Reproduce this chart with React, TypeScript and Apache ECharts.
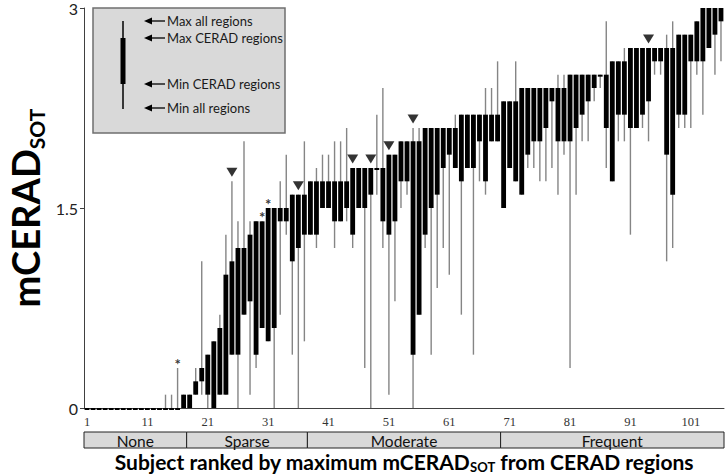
import React, { useEffect, useRef } from 'react';
import * as echarts from 'echarts';

// Subject rank (categories)
const subjects: string[] = Array.from({ length: 106 }, (_, i) => String(i + 1));

// mCERAD_SOT per subject
const minAll = [
  0, 0, 0, 0, 0, 0, 0, 0, 0, 0, 0, 0, 0, 0, 0, 0, 0, 0, 0.1, 0.1,
  0, 0, 0.1, 0.1, 0.4, 0, 0.7, 0.1, 0.3, 0.6, 0.5, 0, 0.7, 1.3, 0.4, 0, 0.5, 1.3, 1.2, 1.5,
  1.5, 1.2, 1.4, 1.4, 1.2, 1.5, 0.3, 0, 1.6, 1.2, 0.1, 0.8, 1.5, 1.6, 0, 0.7, 1.2, 0.4, 0.9, 1.2,
  1.0, 1.8, 0.7, 1.8, 0.4, 1.7, 1.6, 2.0, 2.0, 1.5, 1.8, 1.7, 1.6, 1.8, 1.8, 1.7, 1.7, 1.8, 1.6, 1.9,
  0.3, 1.6, 2.0, 2.0, 2.3, 2.4, 1.8, 1.7, 2.0, 2.0, 1.3, 2.1, 2.1, 2.0, 2.5, 2.5, 1.1, 1.2, 2.1, 2.1,
  2.1, 2.5, 2.2, 2.7, 2.5, 2.6,
];
const minCerad = [
  0, 0, 0, 0, 0, 0, 0, 0, 0, 0, 0, 0, 0, 0, 0, 0, 0, 0, 0.1, 0.2,
  0.1, 0, 0.1, 0.1, 0.4, 0.4, 0.7, 0.8, 0.4, 0.6, 0.5, 0.6, 1.4, 1.4, 1.1, 1.2, 1.3, 1.3, 1.3, 1.5,
  1.5, 1.4, 1.4, 1.5, 1.3, 1.5, 1.5, 1.6, 1.8, 1.4, 1.3, 1.4, 1.7, 1.7, 0.4, 0.7, 1.3, 1.5, 1.6, 1.8,
  1.9, 1.8, 1.7, 1.8, 1.8, 2.0, 1.7, 2.0, 2.0, 1.5, 1.8, 1.7, 1.6, 1.9, 2.0, 2.0, 2.1, 2.3, 2.0, 2.0,
  2.0, 2.1, 2.2, 2.3, 2.4, 2.5, 2.1, 1.7, 2.2, 2.2, 2.1, 2.1, 2.2, 2.3, 2.6, 2.6, 1.9, 1.6, 2.2, 2.2,
  2.6, 2.6, 2.6, 2.7, 2.8, 2.9,
];
const maxCerad = [
  0, 0, 0, 0, 0, 0, 0, 0, 0, 0, 0, 0, 0, 0, 0, 0, 0.1, 0.1, 0.2, 0.3,
  0.4, 0.5, 0.6, 1.0, 1.1, 1.2, 1.2, 1.3, 1.4, 1.4, 1.5, 1.5, 1.5, 1.5, 1.6, 1.6, 1.6, 1.7, 1.7, 1.7,
  1.7, 1.7, 1.7, 1.7, 1.8, 1.8, 1.8, 1.8, 1.8, 1.8, 1.9, 1.9, 2.0, 2.0, 2.0, 2.0, 2.1, 2.1, 2.1, 2.1,
  2.1, 2.1, 2.2, 2.2, 2.2, 2.2, 2.2, 2.2, 2.2, 2.3, 2.3, 2.3, 2.4, 2.4, 2.4, 2.4, 2.4, 2.4, 2.4, 2.4,
  2.5, 2.5, 2.5, 2.5, 2.5, 2.5, 2.5, 2.6, 2.6, 2.6, 2.7, 2.7, 2.7, 2.7, 2.7, 2.7, 2.7, 2.7, 2.8, 2.8,
  2.8, 2.9, 3.0, 3.0, 3.0, 3.0,
];
const maxAll = [
  0, 0, 0, 0, 0, 0, 0, 0, 0, 0, 0, 0, 0, 0.1, 0.1, 0.3, 0.1, 0.1, 0.3, 1.1,
  0.4, 0.5, 0.7, 1.3, 1.7, 1.4, 2.0, 1.4, 1.4, 1.4, 1.5, 1.5, 1.7, 1.9, 1.6, 1.6, 2.0, 1.7, 1.8, 1.9,
  1.9, 2.0, 2.0, 2.1, 1.8, 1.8, 1.8, 1.8, 2.2, 2.4, 1.9, 1.9, 2.0, 2.0, 2.1, 2.1, 2.1, 2.1, 2.1, 2.1,
  2.1, 2.2, 2.2, 2.2, 2.2, 2.2, 2.4, 2.4, 2.6, 2.3, 2.3, 2.6, 2.4, 2.4, 2.4, 2.4, 2.4, 2.4, 2.5, 2.5,
  2.5, 2.5, 2.5, 2.5, 2.5, 2.5, 2.9, 2.6, 2.6, 2.7, 2.7, 2.7, 2.7, 2.7, 2.7, 2.7, 2.8, 2.9, 2.8, 2.8,
  2.8, 2.9, 3.0, 3.0, 3.0, 3.0,
];

// Marked subjects
const triangleSubjects = [25, 36, 45, 48, 51, 55, 94];
const asteriskSubjects = [16, 30, 31];

// Neuritic plaque density groups (by subject rank)
const bandNames = ['None', 'Sparse', 'Moderate', 'Frequent'];
const bandStart = [1, 18, 38, 70];
const bandEnd = [17, 37, 69, 106];

// Axis ticks
const yTicks = [0, 1.5, 3];
const xLabelStep = 10;

const legendLabels = ['Max all regions', 'Max CERAD regions', 'Min CERAD regions', 'Min all regions'];

const FONT = 'Lato, "Open Sans", sans-serif';

export default function App() {
  const ref = useRef<HTMLDivElement>(null);

  useEffect(() => {
    if (!ref.current) return;
    const chart = echarts.init(ref.current, null, { renderer: 'svg' });

    const rangeData = subjects.map((_, k) => [k, minAll[k], minCerad[k], maxCerad[k], maxAll[k]]);
    const triData = triangleSubjects.map((s) => [s - 1, maxAll[s - 1]]);
    const astData = asteriskSubjects.map((s) => [s - 1, maxAll[s - 1]]);
    const bandData = bandNames.map((_, i) => [bandStart[i] - 1, bandEnd[i] - 1]);

    const legendRows = [21, 38, 84, 108];
    const legendChildren: any[] = [
      {
        type: 'rect',
        shape: { x: 93, y: 8, width: 192, height: 125 },
        style: { fill: '#d9d9d9', stroke: '#6f6f6f', lineWidth: 1.5 },
      },
      {
        type: 'line',
        shape: { x1: 123, y1: 21, x2: 123, y2: 109 },
        style: { stroke: '#000', lineWidth: 1.5 },
      },
      {
        type: 'rect',
        shape: { x: 120.5, y: 38, width: 5, height: 46 },
        style: { fill: '#000' },
      },
    ];
    legendRows.forEach((y, i) => {
      legendChildren.push(
        {
          type: 'line',
          shape: { x1: 150, y1: y, x2: 165, y2: y },
          style: { stroke: '#000', lineWidth: 1.3 },
        },
        {
          type: 'polygon',
          shape: { points: [[144, y], [152, y - 3.5], [152, y + 3.5]] },
          style: { fill: '#000' },
        },
        {
          type: 'text',
          x: 167,
          y: y,
          style: {
            text: legendLabels[i],
            font: `13px ${FONT}`,
            fill: '#1a1a1a',
            align: 'left',
            verticalAlign: 'middle',
          },
        }
      );
    });

    const option: any = {
      animation: false,
      textStyle: { fontFamily: FONT },
      grid: { left: 84, right: 4, top: 8, bottom: 66, containLabel: false },
      xAxis: {
        type: 'category',
        data: subjects,
        boundaryGap: true,
        axisLine: { lineStyle: { color: '#404040', width: 1 } },
        axisTick: {
          alignWithLabel: true,
          length: 3,
          interval: (idx: number) => idx % xLabelStep === 0,
          lineStyle: { color: '#404040' },
        },
        axisLabel: {
          interval: (idx: number) => idx % xLabelStep === 0,
          fontFamily: '"Liberation Serif", serif',
          fontSize: 12.5,
          color: '#333',
          margin: 7,
        },
        splitLine: { show: false },
      },
      yAxis: {
        type: 'value',
        min: yTicks[0],
        max: yTicks[yTicks.length - 1],
        interval: yTicks[1] - yTicks[0],
        axisLine: { show: true, lineStyle: { color: '#404040', width: 1 } },
        axisTick: { show: true, length: 4, lineStyle: { color: '#404040' } },
        axisLabel: {
          fontSize: 16,
          color: '#222',
          margin: 6,
          formatter: (v: number) => String(v),
        },
        splitLine: { show: false },
      },
      series: [
        {
          type: 'custom',
          name: 'range',
          clip: false,
          data: rangeData,
          encode: { x: 0, y: [1, 2, 3, 4] },
          renderItem: (params: any, api: any) => {
            const i = api.value(0);
            const x = api.coord([i, 0])[0];
            const bw = api.size([1, 0])[0];
            const yMinAll = api.coord([i, api.value(1)])[1];
            const yMinC = api.coord([i, api.value(2)])[1];
            const yMaxC = api.coord([i, api.value(3)])[1];
            const yMaxAll = api.coord([i, api.value(4)])[1];
            const tw = bw * 0.8;
            const h = Math.max(yMinC - yMaxC, 2);
            const children: any[] = [];
            if (yMinAll - yMaxAll > 0.5) {
              children.push({
                type: 'line',
                shape: { x1: x, y1: yMinAll, x2: x, y2: yMaxAll },
                style: { stroke: '#858585', lineWidth: 1.4 },
              });
            }
            children.push({
              type: 'rect',
              shape: { x: x - tw / 2, y: yMaxC, width: tw, height: h },
              style: { fill: '#000' },
            });
            return { type: 'group', children };
          },
          z: 2,
        },
        {
          type: 'scatter',
          name: 'triangles',
          data: triData,
          symbol: 'triangle',
          symbolRotate: 180,
          symbolSize: [11, 9],
          symbolOffset: [0, -9],
          itemStyle: { color: '#000' },
          z: 3,
        },
        {
          type: 'scatter',
          name: 'asterisks',
          data: astData,
          symbol: 'circle',
          symbolSize: 1,
          itemStyle: { color: 'rgba(0,0,0,0)' },
          label: {
            show: true,
            position: 'top',
            distance: -4,
            formatter: '*',
            color: '#000',
            fontFamily: FONT,
            fontSize: 15,
            fontWeight: 'bold',
          },
          z: 3,
        },
        {
          type: 'custom',
          name: 'bands',
          clip: false,
          data: bandData,
          encode: { x: [0, 1] },
          renderItem: (params: any, api: any) => {
            const s = api.value(0);
            const e = api.value(1);
            const half = api.size([1, 0])[0] / 2;
            const x0 = api.coord([s, 0])[0] - half;
            const x1 = api.coord([e, 0])[0] + half;
            const y0 = api.coord([s, 0])[1] + 24;
            return {
              type: 'group',
              children: [
                {
                  type: 'rect',
                  shape: { x: x0, y: y0, width: x1 - x0, height: 16 },
                  style: { fill: '#d9d9d9', stroke: '#222', lineWidth: 1 },
                },
                {
                  type: 'text',
                  x: (x0 + x1) / 2,
                  y: y0 + 8.5,
                  style: {
                    text: bandNames[params.dataIndex],
                    font: `15.5px ${FONT}`,
                    fill: '#111',
                    align: 'center',
                    verticalAlign: 'middle',
                  },
                },
              ],
            };
          },
          z: 3,
        },
      ],
      graphic: [
        { type: 'group', children: legendChildren },
        {
          type: 'text',
          x: 25,
          y: 208,
          rotation: Math.PI / 2,
          style: {
            text: '{a|mCERAD}{b|SOT}',
            align: 'center',
            verticalAlign: 'middle',
            rich: {
              a: { fontFamily: FONT, fontSize: 38, fontWeight: 'bold', lineHeight: 44, fill: '#000' },
              b: { fontFamily: FONT, fontSize: 21, fontWeight: 'bold', lineHeight: 18, verticalAlign: 'bottom', fill: '#000' },
            },
          },
        },
        {
          type: 'text',
          x: 404,
          y: 461,
          style: {
            text: '{a|Subject ranked by maximum mCERAD}{b|SOT}{a| from CERAD regions}',
            align: 'center',
            verticalAlign: 'middle',
            rich: {
              a: { fontFamily: FONT, fontSize: 21, fontWeight: 'bold', lineHeight: 24, fill: '#000' },
              b: { fontFamily: FONT, fontSize: 13, fontWeight: 'bold', lineHeight: 11, verticalAlign: 'bottom', fill: '#000' },
            },
          },
        },
      ],
    };

    chart.setOption(option);
    return () => chart.dispose();
  }, []);

  return (
    <div
      ref={ref}
      style={{ position: 'fixed', left: 0, top: 0, width: 728, height: 474, background: '#fff' }}
    />
  );
}
